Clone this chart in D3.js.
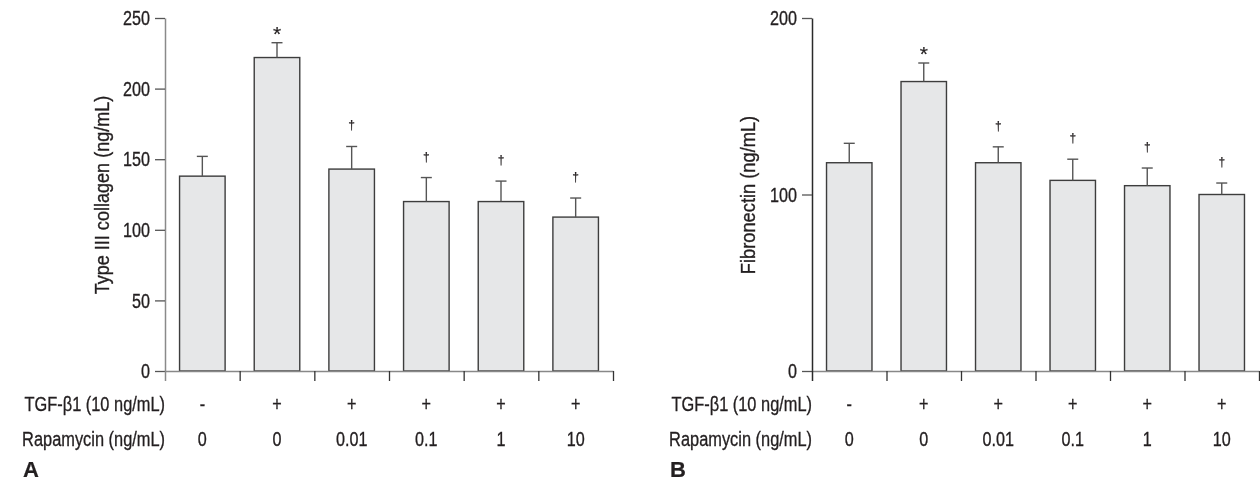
<!DOCTYPE html>
<html>
<head>
<meta charset="utf-8">
<script src="https://cdn.jsdelivr.net/npm/d3@7"></script>
<style>
  html, body { margin: 0; padding: 0; background: #fff; }
  svg { display: block; will-change: transform; }
  text { font-family: "Liberation Sans", Arial, sans-serif; fill: #231f20; stroke: #231f20; stroke-width: 0.35px; }
  text.mark { stroke-width: 0.2px; }
  text.letter { stroke-width: 0.2px; }
</style>
</head>
<body>
<svg id="chart" width="1260" height="481"></svg>
<script>
// ---- data ----
const tgfLabels = ["-", "+", "+", "+", "+", "+"];
const rapaLabels = ["0", "0", "0.01", "0.1", "1", "10"];
const groups = ["g1", "g2", "g3", "g4", "g5", "g6"];
const markLabels = ["", "*", "\u2020", "\u2020", "\u2020", "\u2020"];

const collagenMeans = [138, 222, 143, 120, 120, 109];
const collagenErr = [14, 10.5, 16, 17, 14.5, 13.5];
const collagenTicks = [0, 50, 100, 150, 200, 250];

const fibroMeans = [118, 164, 118, 108, 105, 100];
const fibroErr = [11, 10.5, 9, 12, 10, 6.5];
const fibroTicks = [0, 100, 200];

const svg = d3.select("#chart");

// narrow the glyphs horizontally (mimic a condensed typeface) using a transform
function condense(sel, f) {
  sel.each(function () {
    const t = d3.select(this);
    const x = +t.attr("x") || 0;
    const y = +t.attr("y") || 0;
    t.attr("x", 0).attr("y", 0)
     .attr("transform", `translate(${x},${y}) scale(${f},1)`);
  });
}

function panel(opts) {
  const g = svg.append("g");
  const x = d3.scaleBand().domain(groups).range([opts.x0, opts.x1]).paddingInner(0.39).paddingOuter(0.195);
  const y = d3.scaleLinear().domain([0, opts.max]).range([371, 18]);
  const xb = d3.scaleLinear().domain([0, groups.length]).range([opts.x0, opts.x1]);

  // bars
  g.selectAll("rect.bar").data(opts.means).join("rect")
    .attr("x", (d, i) => x(groups[i]))
    .attr("y", d => y(d))
    .attr("width", x.bandwidth())
    .attr("height", d => y(0) - y(d))
    .attr("fill", "#e6e7e8")
    .attr("stroke", "#3d3d3d")
    .attr("stroke-width", 1.4);

  // error bars
  const cx = i => x(groups[i]) + x.bandwidth() / 2;
  g.selectAll("line.err").data(opts.means).join("line")
    .attr("x1", (d, i) => cx(i)).attr("x2", (d, i) => cx(i))
    .attr("y1", d => y(d)).attr("y2", (d, i) => y(d + opts.err[i]))
    .attr("stroke", "#555").attr("stroke-width", 1.4);
  g.selectAll("line.cap").data(opts.means).join("line")
    .attr("x1", (d, i) => cx(i) - 5.5).attr("x2", (d, i) => cx(i) + 5.5)
    .attr("y1", (d, i) => y(d + opts.err[i])).attr("y2", (d, i) => y(d + opts.err[i]))
    .attr("stroke", "#555").attr("stroke-width", 1.4);

  // significance marks
  g.selectAll("text.mark").data(opts.means).join("text")
    .attr("class", "mark")
    .attr("x", (d, i) => cx(i))
    .attr("y", (d, i) => y(d + opts.err[i]) - (markLabels[i] === "*" ? 2 : 17))
    .attr("text-anchor", "middle")
    .style("font-size", (d, i) => markLabels[i] === "*" ? "21px" : "12px")
    .text((d, i) => markLabels[i]);

  // y axis
  const yAxis = g.append("g").attr("transform", `translate(${opts.x0},0)`)
    .call(d3.axisLeft(y).tickValues(opts.ticks).tickSize(10).tickPadding(5).tickSizeOuter(0));
  yAxis.select(".domain").attr("stroke", opts.yColor).attr("stroke-width", 1.5);
  yAxis.selectAll(".tick line").attr("stroke", "#555").attr("stroke-width", 1.3);
  const yt = yAxis.selectAll(".tick text").style("font-size", "21px")
    .style("font-family", "'Liberation Sans', Arial, sans-serif").attr("fill", "#231f20");
  condense(yt, 0.77);

  // x axis (band boundaries)
  const xAxis = g.append("g").attr("transform", `translate(0,${y(0)})`)
    .call(d3.axisBottom(xb).tickValues(d3.range(groups.length + 1)).tickSize(10).tickFormat("").tickSizeOuter(0));
  xAxis.select(".domain").attr("stroke", "#888").attr("stroke-width", 1.5);
  xAxis.selectAll(".tick line").attr("stroke", "#333").attr("stroke-width", 1.3);
  xAxis.selectAll(".tick").filter(d => d === 0).select("line").attr("stroke", opts.yColor).attr("stroke-width", 1.5);

  // row labels
  const rl1 = g.append("text").attr("x", opts.x0).attr("y", 411).attr("text-anchor", "end")
    .style("font-size", "21px").text("TGF-\u03B21 (10 ng/mL)");
  const rl2 = g.append("text").attr("x", opts.x0).attr("y", 446).attr("text-anchor", "end")
    .style("font-size", "21px").text("Rapamycin (ng/mL)");
  condense(rl1, 0.78); condense(rl2, 0.78);
  const t1 = g.selectAll("text.tgf").data(tgfLabels).join("text")
    .attr("class", "tgf")
    .attr("x", (d, i) => cx(i)).attr("y", 411).attr("text-anchor", "middle")
    .style("font-size", "21px").text(d => d);
  const t2 = g.selectAll("text.rapa").data(rapaLabels).join("text")
    .attr("class", "rapa")
    .attr("x", (d, i) => cx(i)).attr("y", 446).attr("text-anchor", "middle")
    .style("font-size", "21px").text(d => d);
  condense(t1, 0.77); condense(t2, 0.77);

  // y title
  g.append("text")
    .attr("transform", `translate(${opts.titleX},195) rotate(-90) scale(${opts.titleScale},1)`)
    .attr("text-anchor", "middle")
    .style("font-size", "21px")
    .text(opts.title);

  // panel letter
  g.append("text").attr("class", "letter").attr("x", opts.letterX).attr("y", 477)
    .style("font-size", "22px").style("font-weight", "bold")
    .text(opts.letter);
}

panel({ x0: 165, x1: 613, max: 250, ticks: collagenTicks, means: collagenMeans, err: collagenErr,
        yColor: "#8a8a8a", title: "Type III collagen (ng/mL)", titleX: 109, titleScale: 0.86, letter: "A", letterX: 23 });
panel({ x0: 812, x1: 1259, max: 200, ticks: fibroTicks, means: fibroMeans, err: fibroErr,
        yColor: "#2a2a2a", title: "Fibronectin (ng/mL)", titleX: 755, titleScale: 0.87, letter: "B", letterX: 670 });
</script>
</body>
</html>
